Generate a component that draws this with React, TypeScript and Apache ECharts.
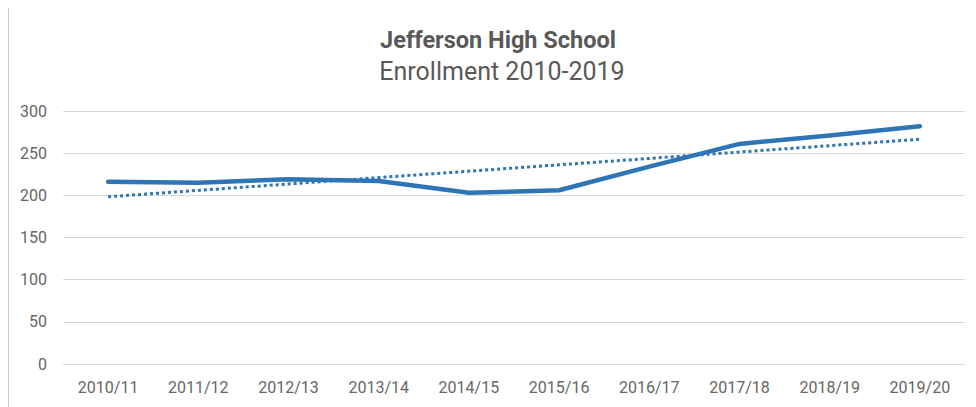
import React, { useEffect, useRef } from "react";
import * as echarts from "echarts";

const categories = [
  "2010/11", "2011/12", "2012/13", "2013/14", "2014/15",
  "2015/16", "2016/17", "2017/18", "2018/19", "2019/20",
];
const enrollment = [216, 215, 219, 217, 203, 206, 234, 261, 271, 282];
const yTicks = [0, 50, 100, 150, 200, 250, 300];
const titleText = "Jefferson High School";
const subtitleText = "Enrollment 2010-2019";

function linearTrend(vals: number[]): number[] {
  const n = vals.length;
  const mx = (n - 1) / 2;
  const my = vals.reduce((a, b) => a + b, 0) / n;
  let sxy = 0;
  let sxx = 0;
  vals.forEach((v, i) => {
    sxy += (i - mx) * (v - my);
    sxx += (i - mx) * (i - mx);
  });
  const slope = sxy / sxx;
  return vals.map((_, i) => +(my + slope * (i - mx)).toFixed(2));
}

export default function App() {
  const ref = useRef<HTMLDivElement>(null);
  useEffect(() => {
    if (!ref.current) return;
    const chart = echarts.init(ref.current, undefined, { renderer: "svg" });
    const font = "Roboto, 'Noto Sans', sans-serif";
    const trend = linearTrend(enrollment);
    chart.setOption({
      animation: false,
      backgroundColor: "#ffffff",
      graphic: [
        {
          type: "text",
          x: 490,
          y: 33,
          style: {
            text: titleText,
            font: `bold 23.5px ${font}`,
            fill: "#595959",
            textAlign: "center",
            textVerticalAlign: "middle",
          },
        },
        {
          type: "text",
          x: 494,
          y: 64,
          style: {
            text: subtitleText,
            font: `25px ${font}`,
            fill: "#595959",
            textAlign: "center",
            textVerticalAlign: "middle",
          },
        },
      ],
      grid: { left: 55, right: 11, top: 104, bottom: 43 },
      xAxis: {
        type: "category",
        data: categories,
        boundaryGap: true,
        axisLine: { show: true, lineStyle: { color: "#d9d9d9", width: 1 } },
        axisTick: { show: false },
        axisLabel: { color: "#666666", fontSize: 16, fontFamily: font, margin: 15 },
      },
      yAxis: {
        type: "value",
        min: yTicks[0],
        max: yTicks[yTicks.length - 1],
        interval: 50,
        axisLine: { show: false },
        axisTick: { show: false },
        splitLine: { lineStyle: { color: "#d9d9d9", width: 1 } },
        axisLabel: { color: "#666666", fontSize: 16, fontFamily: font, margin: 16 },
      },
      series: [
        {
          name: "Enrollment",
          type: "line",
          data: enrollment,
          symbol: "none",
          lineStyle: { color: "#2e75b6", width: 4.5, cap: "round", join: "round" },
          z: 3,
        },
        {
          name: "Linear (Enrollment)",
          type: "line",
          data: trend,
          symbol: "none",
          lineStyle: { color: "#2e75b6", width: 3, type: [3, 3], cap: "butt" },
          z: 2,
        },
      ],
    });
    return () => chart.dispose();
  }, []);
  return (
    <div
      style={{
        position: "relative",
        top: -1,
        width: 968,
        height: 400,
        borderTop: "1px solid #d0d0d0",
        borderLeft: "1px solid #d0d0d0",
        boxSizing: "border-box",
        overflow: "hidden",
      }}
    >
      <div ref={ref} style={{ position: "absolute", left: -1, top: -1, width: 968, height: 400 }} />
    </div>
  );
}
